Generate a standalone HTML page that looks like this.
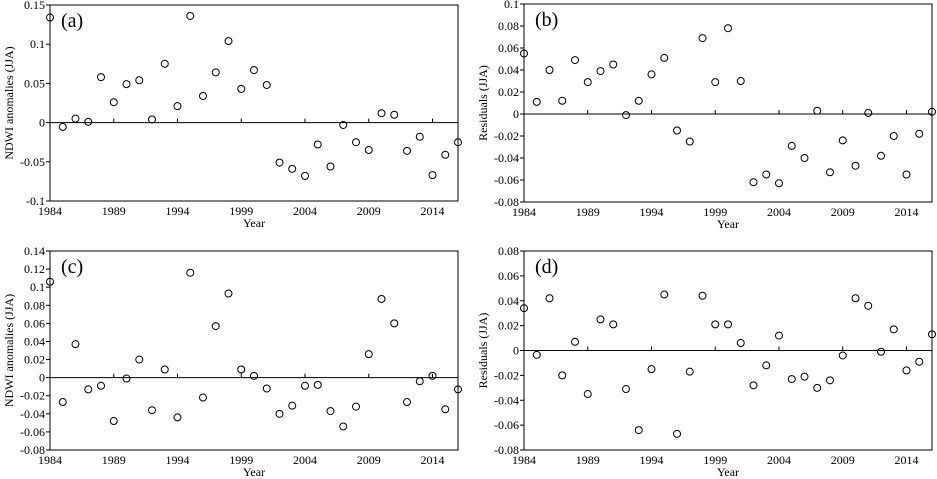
<!DOCTYPE html>
<html><head><meta charset="utf-8"><style>
body{margin:0;background:#fff;}
svg{display:block;font-family:"Liberation Serif",serif;}
</style></head><body>
<svg id="c" width="937" height="479"></svg>
<script>
const years=[];for(let y=1984;y<=2016;y++)years.push(y);
const xTicks=[1984,1989,1994,1999,2004,2009,2014];
const seriesA=[0.134,-0.0055,0.005,0.001,0.058,0.026,0.049,0.054,0.004,0.075,0.021,0.136,0.034,0.064,0.104,0.043,0.067,0.048,-0.051,-0.059,-0.068,-0.028,-0.056,-0.003,-0.025,-0.035,0.012,0.010,-0.036,-0.018,-0.067,-0.041,-0.025];
const seriesB=[0.055,0.011,0.040,0.012,0.049,0.029,0.039,0.045,-0.001,0.012,0.036,0.051,-0.015,-0.025,0.069,0.029,0.078,0.030,-0.062,-0.055,-0.063,-0.029,-0.040,0.003,-0.053,-0.024,-0.047,0.001,-0.038,-0.020,-0.055,-0.018,0.002];
const seriesC=[0.106,-0.027,0.037,-0.013,-0.009,-0.048,-0.001,0.020,-0.036,0.009,-0.044,0.116,-0.022,0.057,0.093,0.009,0.002,-0.012,-0.040,-0.031,-0.009,-0.008,-0.037,-0.054,-0.032,0.026,0.087,0.060,-0.027,-0.004,0.002,-0.035,-0.013];
const seriesD=[0.034,-0.0035,0.042,-0.020,0.007,-0.035,0.025,0.021,-0.031,-0.064,-0.015,0.045,-0.067,-0.017,0.044,0.021,0.021,0.006,-0.028,-0.012,0.012,-0.023,-0.021,-0.030,-0.024,-0.004,0.042,0.036,-0.001,0.017,-0.016,-0.009,0.013];
const yTicksA=[0.15,0.1,0.05,0,-0.05,-0.1];
const yTicksB=[0.1,0.08,0.06,0.04,0.02,0,-0.02,-0.04,-0.06,-0.08];
const yTicksC=[0.14,0.12,0.1,0.08,0.06,0.04,0.02,0,-0.02,-0.04,-0.06,-0.08];
const yTicksD=[0.08,0.06,0.04,0.02,0,-0.02,-0.04,-0.06,-0.08];
const NS="http://www.w3.org/2000/svg";
const svg=document.getElementById('c');
function mk(tag,attrs,parent){const e=document.createElementNS(NS,tag);for(const k in attrs)e.setAttribute(k,attrs[k]);(parent||svg).appendChild(e);return e;}
function panel(id,L,R,T,B,ymax,ymin,yt,data,ylabel,letter){
  const g=mk('g',{});
  
  
  const xs=v=>L+(v-1984)/32*(R-L);
  const ys=v=>T+(ymax-v)/(ymax-ymin)*(B-T);
  const frame=mk('rect',{x:L,y:T,width:R-L,height:B-T,fill:'none',stroke:'#000','stroke-width':1},g);
  
  
  const z=mk('line',{x1:L,x2:R,y1:ys(0),y2:ys(0),stroke:'#000','stroke-width':1},g);
  
  
  yt.forEach(v=>{
    mk('line',{x1:L-4,x2:L,y1:ys(v),y2:ys(v),stroke:'#000'},g);
    const t=mk('text',{x:L-5,y:ys(v)+4,'text-anchor':'end','font-size':12},g);
    t.textContent=String(v);
    
    
  });
  xTicks.forEach(v=>{
    mk('line',{x1:xs(v),x2:xs(v),y1:ys(0),y2:ys(0)-4,stroke:'#000'},g);
    const t=mk('text',{x:xs(v),y:B+14,'text-anchor':'middle','font-size':12},g);
    t.textContent=String(v);
    
    
  });
  const xt=mk('text',{x:(L+R)/2,y:B+26,'text-anchor':'middle','font-size':12},g);
  xt.textContent='Year';
  
  
  const yl=mk('text',{transform:`translate(${L-37},${(T+B)/2}) rotate(-90)`,'text-anchor':'middle','font-size':12},g);
  yl.textContent=ylabel;
  
  
  const pl=mk('text',{x:L+11,y:T+22,'font-size':20},g);
  pl.textContent=letter;
  
  
  data.forEach((v,i)=>{
    const c=mk('circle',{cx:xs(years[i]),cy:ys(v),r:3.5,fill:'none',stroke:'#000','stroke-width':1},g);
    
    
  });
}
panel('a',50,458,5,201,0.15,-0.1,yTicksA,seriesA,'NDWI  anomalies (JJA)','(a)');
panel('b',524,932,4,202,0.1,-0.08,yTicksB,seriesB,'Residuals (JJA)','(b)');
panel('c',50,458,251,450,0.14,-0.08,yTicksC,seriesC,'NDWI  anomalies (JJA)','(c)');
panel('d',524,932,251,450,0.08,-0.08,yTicksD,seriesD,'Residuals (JJA)','(d)');
</script>
</body></html>
